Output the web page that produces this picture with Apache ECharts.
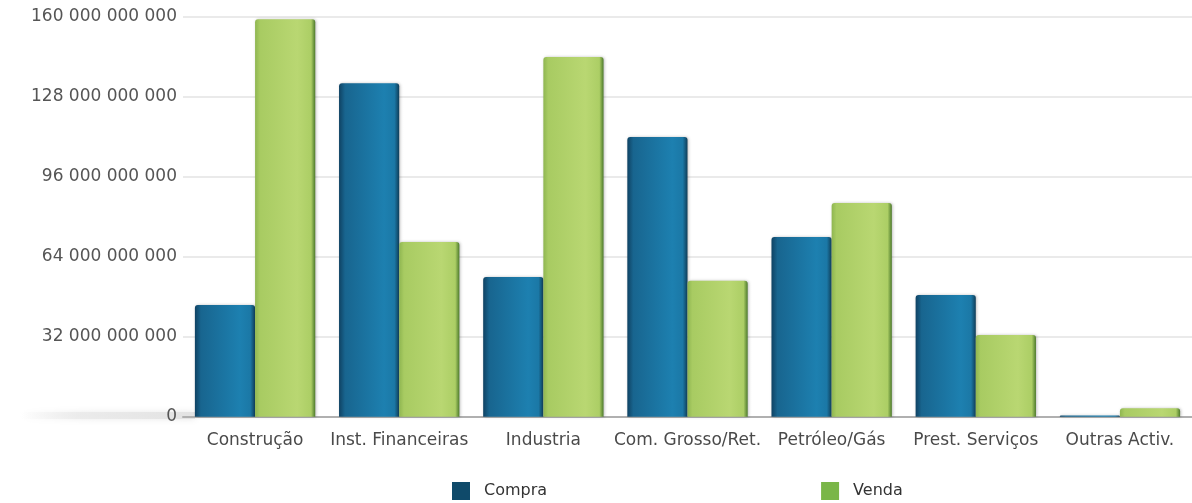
<!DOCTYPE html>
<html>
<head>
<meta charset="utf-8">
<script src="https://cdn.jsdelivr.net/npm/echarts@6/dist/echarts.min.js"></script>
<style>
html,body{margin:0;padding:0;background:#fff;}
#c{width:1192px;height:503px;}
</style>
</head>
<body>
<div id="c"></div>
<script>
const categories = ['Construção', 'Inst. Financeiras', 'Industria', 'Com. Grosso/Ret.', 'Petróleo/Gás', 'Prest. Serviços', 'Outras Activ.'];
const compra = [44700000000, 133400000000, 55900000000, 111900000000, 71900000000, 48700000000, 500000000];
const venda = [159000000000, 69900000000, 143900000000, 54400000000, 85500000000, 32700000000, 3400000000];
const yTicks = [0, 32000000000, 64000000000, 96000000000, 128000000000, 160000000000];

const FONT = '"DejaVu Sans", sans-serif';
const chart = echarts.init(document.getElementById('c'), null, {renderer: 'canvas'});

function fmt(v) {
  return String(Math.round(v)).replace(/\B(?=(\d{3})+(?!\d))/g, ' ');
}

const blueGrad = new echarts.graphic.LinearGradient(0, 0, 1, 0, [
  {offset: 0, color: '#0f4263'},
  {offset: 0.1, color: '#18658f'},
  {offset: 0.75, color: '#1d80b0'},
  {offset: 0.92, color: '#1b78a6'},
  {offset: 1, color: '#0f3d58'}
]);
const greenGrad = new echarts.graphic.LinearGradient(0, 0, 1, 0, [
  {offset: 0, color: '#8fb651'},
  {offset: 0.08, color: '#a8cb62'},
  {offset: 0.7, color: '#b9d772'},
  {offset: 0.93, color: '#acce65'},
  {offset: 1, color: '#4d7a2c'}
]);

chart.setOption({
  animation: false,
  backgroundColor: '#ffffff',
  graphic: [{
    type: 'rect', left: 20, top: 412, z: -1,
    shape: {width: 175, height: 7},
    style: {
      fill: new echarts.graphic.LinearGradient(0, 0, 1, 0, [
        {offset: 0, color: 'rgba(235,235,235,0)'},
        {offset: 0.35, color: 'rgba(232,232,232,0.7)'},
        {offset: 1, color: 'rgba(225,225,225,0.9)'}
      ]),
      shadowBlur: 6, shadowColor: 'rgba(220,220,220,0.8)'
    }
  }],
  grid: {left: 183, top: 16.7, width: 1010, height: 400, containLabel: false},
  legend: {
    left: 452, top: 482, padding: 0, itemWidth: 18, itemHeight: 18, itemGap: 274,
    icon: 'rect',
    textStyle: {fontFamily: FONT, fontSize: 16, color: '#333', padding: [0, 0, 0, 9]},
    data: [
      {name: 'Compra', itemStyle: {color: '#0f4a6a'}},
      {name: 'Venda', itemStyle: {color: '#7ab648'}}
    ]
  },
  xAxis: {
    type: 'category',
    data: categories,
    axisTick: {show: false},
    axisLine: {show: true, lineStyle: {color: '#b0b0b0', width: 2}},
    axisLabel: {fontFamily: FONT, fontSize: 17, color: '#4a4a4a', margin: 15, interval: 0}
  },
  yAxis: {
    type: 'value',
    min: yTicks[0],
    max: yTicks[yTicks.length - 1],
    interval: yTicks[1] - yTicks[0],
    axisLine: {show: false},
    axisTick: {show: false},
    splitLine: {lineStyle: {color: '#e3e3e3', width: 1.5}},
    axisLabel: {fontFamily: FONT, fontSize: 17, color: '#555', margin: 6, formatter: fmt}
  },
  series: [
    {
      name: 'Compra', type: 'bar', data: compra,
      barGap: '0%', barCategoryGap: '16.5%',
      itemStyle: {color: blueGrad, borderRadius: [3, 3, 0, 0], shadowColor: 'rgba(0,0,0,0.25)', shadowBlur: 3, shadowOffsetX: 1}
    },
    {
      name: 'Venda', type: 'bar', data: venda,
      itemStyle: {color: greenGrad, borderRadius: [3, 3, 0, 0], shadowColor: 'rgba(0,0,0,0.25)', shadowBlur: 3, shadowOffsetX: 1}
    }
  ]
});
</script>
</body>
</html>
